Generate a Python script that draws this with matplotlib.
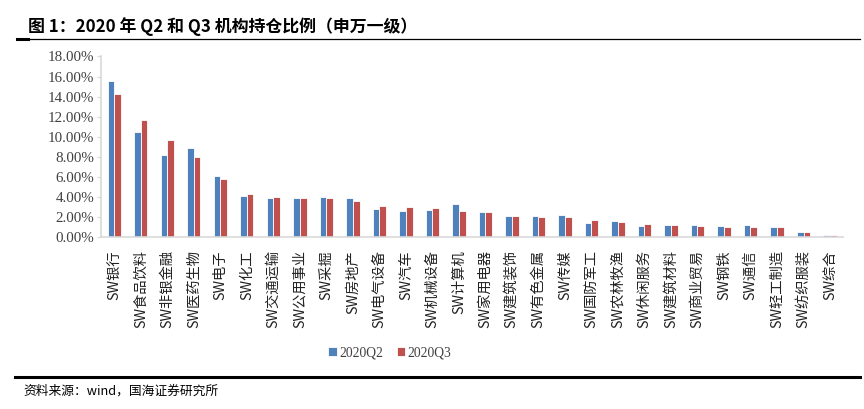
import numpy as np
import matplotlib.pyplot as plt
from matplotlib.lines import Line2D

plt.rcParams['font.family'] = ['Noto Sans CJK SC', 'DejaVu Sans']

# 申万一级行业
industries = ['SW银行', 'SW食品饮料', 'SW非银金融', 'SW医药生物', 'SW电子', 'SW化工',
              'SW交通运输', 'SW公用事业', 'SW采掘', 'SW房地产', 'SW电气设备', 'SW汽车',
              'SW机械设备', 'SW计算机', 'SW家用电器', 'SW建筑装饰', 'SW有色金属', 'SW传媒',
              'SW国防军工', 'SW农林牧渔', 'SW休闲服务', 'SW建筑材料', 'SW商业贸易', 'SW钢铁',
              'SW通信', 'SW轻工制造', 'SW纺织服装', 'SW综合']
# 持仓比例 (%)
q2 = [15.54, 10.43, 8.20, 8.83, 6.08, 4.09, 3.89, 3.89, 3.95, 3.85, 2.83, 2.56,
      2.66, 3.26, 2.49, 2.12, 2.09, 2.22, 1.39, 1.62, 1.09, 1.22, 1.22, 1.06,
      1.22, 0.96, 0.46, 0.20]
q3 = [14.24, 11.62, 9.70, 7.97, 5.81, 4.25, 3.98, 3.89, 3.85, 3.56, 3.06, 2.96,
      2.86, 2.59, 2.52, 2.06, 2.02, 1.99, 1.66, 1.52, 1.32, 1.22, 1.06, 1.02,
      0.99, 1.02, 0.53, 0.20]
yticks = np.arange(0, 18.01, 2)

blue = '#4F81BD'
red = '#C0504D'
grey = '#D9D9D9'

fig = plt.figure(figsize=(8.64, 4.09), dpi=100)
ax = fig.add_axes([0.117, 0.4205, 0.859, 0.4415])

x = np.arange(len(industries))
w = 0.25
ax.bar(x - w / 2, q2, w, color=blue, edgecolor='white', linewidth=0.6, label='2020Q2')
ax.bar(x + w / 2, q3, w, color=red, edgecolor='white', linewidth=0.6, label='2020Q3')

ax.set_xlim(-0.5, len(industries) - 0.5)
ax.set_ylim(0, 18)
ax.set_yticks(yticks)
ax.set_yticklabels(['%.2f%%' % v for v in yticks], family='Liberation Serif', fontsize=10.8,
                   color='#404040')
ax.set_xticks(x)
ax.set_xticklabels(industries, rotation=90, fontsize=10.3, color='#222222')
ax.tick_params(axis='x', length=0, pad=9.5)
ax.tick_params(axis='y', length=3, color=grey, pad=2)

for s in ['top', 'right']:
    ax.spines[s].set_visible(False)
ax.spines['left'].set_color(grey)
ax.spines['bottom'].set_color(grey)
ax.spines['left'].set_linewidth(1.2)
ax.spines['bottom'].set_linewidth(1.2)

leg = fig.legend(loc='center', bbox_to_anchor=(390 / 864, 1 - 353 / 409), ncol=2, frameon=False,
                 prop={'family': 'Liberation Serif', 'size': 9.8}, handlelength=0.6,
                 handleheight=0.6, handletextpad=0.2, columnspacing=1.0)
for t in leg.get_texts():
    t.set_color('#404040')

# 标题及上下分隔线
fig.text(28 / 864, 1 - 27 / 409, '图 1：2020 年 Q2 和 Q3 机构持仓比例（申万一级）',
         fontsize=12.2, fontweight='bold', va='center', ha='left')
fig.add_artist(Line2D([17 / 864, 860 / 864], [1 - 38.7 / 409] * 2, color='black', lw=0.9))
fig.add_artist(Line2D([17 / 864, 28 / 864], [1 - 39.3 / 409] * 2, color='black', lw=2.2))
fig.add_artist(Line2D([15 / 864, 860 / 864], [1 - 376.7 / 409] * 2, color='black', lw=2.2))
fig.text(23 / 864, 1 - 391 / 409, '资料来源：wind，国海证券研究所', fontsize=9.2,
         va='center', ha='left')

fig.savefig('out.png', dpi=100)
